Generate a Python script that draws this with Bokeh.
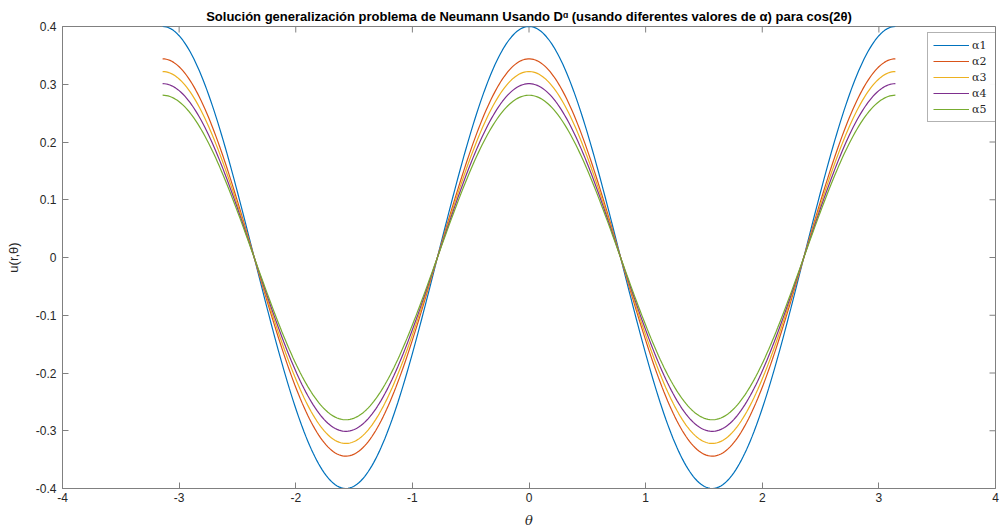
import numpy as np
from bokeh.plotting import figure
from bokeh.models import Range1d, FixedTicker, Legend, LegendItem
from bokeh.embed import file_html
from bokeh.resources import INLINE

# values
amplitudes = [0.400, 0.344, 0.322, 0.301, 0.281]
labels = ["α1", "α2", "α3", "α4", "α5"]
colors = [(0, 114, 189), (217, 83, 25), (237, 177, 32), (126, 47, 142), (119, 172, 48)]
theta = np.linspace(-np.pi, np.pi, 400)

x_ticks = [-4, -3, -2, -1, 0, 1, 2, 3, 4]
x_tick_labels = ["-4", "-3", "-2", "-1", "0", "1", "2", "3", "4"]
y_ticks = [-0.4, -0.3, -0.2, -0.1, 0, 0.1, 0.2, 0.3, 0.4]
y_tick_labels = ["-0.4", "-0.3", "-0.2", "-0.1", "0", "0.1", "0.2", "0.3", "0.4"]

FONT = "Liberation Sans"
AX = "#262626"
LINE = "#808080"

X0, X1, Y0, Y1 = -4, 4, -0.4, 0.4
p = figure(width=1006, height=531, output_backend="svg", toolbar_location=None,
           x_range=Range1d(X0, X1), y_range=Range1d(Y0, Y1),
           min_border_left=62, min_border_right=11, min_border_top=26, min_border_bottom=43,
           title="Solución generalización problema de Neumann Usando Dᵅ (usando diferentes valores de α) para cos(2θ)")
p.title.text_font = FONT
p.title.text_font_size = "13px"
p.title.text_font_style = "bold"
p.title.align = "center"
p.title.text_color = "#000000"
p.title.offset = 0
p.title.standoff = 6
p.xgrid.visible = False
p.ygrid.visible = False
p.outline_line_color = LINE

for a, c in zip(amplitudes, colors):
    p.line(x=list(theta), y=list(a * np.cos(2 * theta)), line_color=c, line_width=1.2)

# legend keys: short lines outside the visible ranges, carrying only the style
keys = [p.line(x=[X1 + 10, X1 + 11], y=[0, 0], line_color=c, line_width=1.2) for c in colors]

# inward ticks on the top and right edges of the box
tx = 6 * (X1 - X0) / 933
ty = 6 * (Y1 - Y0) / 462
p.segment(x0=x_ticks, y0=[Y1] * len(x_ticks), x1=x_ticks, y1=[Y1 - ty] * len(x_ticks),
          line_color=LINE, line_width=1)
p.segment(x0=[X1] * len(y_ticks), y0=y_ticks, x1=[X1 - tx] * len(y_ticks), y1=y_ticks,
          line_color=LINE, line_width=1)

def style(ax):
    ax.axis_line_color = LINE
    ax.major_tick_line_color = LINE
    ax.major_tick_in = 6
    ax.major_tick_out = 0
    ax.minor_tick_in = 0
    ax.minor_tick_out = 0
    ax.major_label_text_font = FONT
    ax.major_label_text_font_size = "12px"
    ax.major_label_text_color = AX
    ax.axis_label_text_font = FONT
    ax.axis_label_text_color = AX
    ax.axis_label_text_font_size = "13px"
    ax.axis_label_text_font_style = "normal"

xa = p.xaxis[0]
ya = p.yaxis[0]
xa.ticker = FixedTicker(ticks=x_ticks)
ya.ticker = FixedTicker(ticks=y_ticks)
xa.major_label_overrides = {t: s for t, s in zip(x_ticks, x_tick_labels)}
ya.major_label_overrides = {t: s for t, s in zip(y_ticks, y_tick_labels)}
style(xa)
style(ya)
xa.axis_label = "θ"
xa.axis_label_text_font = "DejaVu Serif"
xa.axis_label_text_font_style = "italic"
xa.major_label_standoff = 4
xa.axis_label_standoff = 8
ya.axis_label = "u(r,θ)"
ya.major_label_standoff = 6
ya.axis_label_standoff = 12

lg = Legend(items=[LegendItem(label=l, renderers=[r]) for l, r in zip(labels, keys)],
            location=(865, 366), margin=0, padding=5, spacing=2,
            glyph_width=36, glyph_height=14, label_height=14, label_standoff=3,
            label_text_font="DejaVu Serif", label_text_font_size="11px",
            label_text_color=AX, border_line_color="#666666")
p.add_layout(lg)

open("out.html", "w").write(file_html(p, INLINE))
